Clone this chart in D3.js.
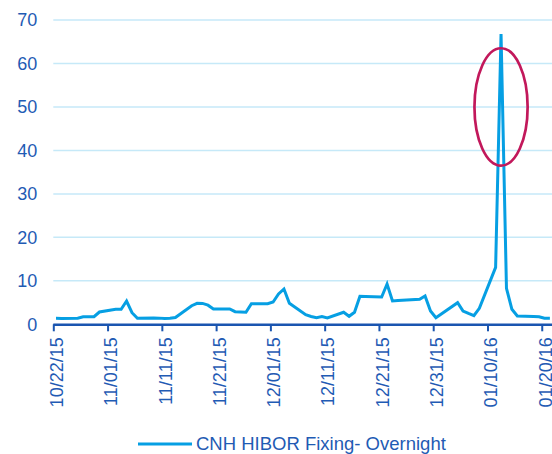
<!DOCTYPE html>
<html>
<head>
<meta charset="utf-8">
<script src="https://cdn.jsdelivr.net/npm/d3@7.9.0/dist/d3.min.js"></script>
<style>
  html, body { margin: 0; padding: 0; background: #fff; }
  svg { display: block; font-family: "Liberation Sans", Arial, sans-serif; }
</style>
</head>
<body>
<svg id="chart" width="552" height="454"></svg>
<script>
// CNH HIBOR overnight fixing (business days)
const dates = [
  "2015-10-22", "2015-10-23", "2015-10-26", "2015-10-27", "2015-10-28", "2015-10-29", "2015-10-30",
  "2015-11-02", "2015-11-03", "2015-11-04", "2015-11-05", "2015-11-06",
  "2015-11-09", "2015-11-10", "2015-11-11", "2015-11-12", "2015-11-13",
  "2015-11-16", "2015-11-17", "2015-11-18", "2015-11-19", "2015-11-20",
  "2015-11-23", "2015-11-24", "2015-11-25", "2015-11-26", "2015-11-27",
  "2015-11-30", "2015-12-01", "2015-12-02", "2015-12-03", "2015-12-04",
  "2015-12-07", "2015-12-08", "2015-12-09", "2015-12-10", "2015-12-11",
  "2015-12-14", "2015-12-15", "2015-12-16", "2015-12-17", "2015-12-18",
  "2015-12-21", "2015-12-22", "2015-12-23", "2015-12-24",
  "2015-12-28", "2015-12-29", "2015-12-30", "2015-12-31",
  "2016-01-04", "2016-01-05", "2016-01-06", "2016-01-07", "2016-01-08",
  "2016-01-11", "2016-01-12", "2016-01-13", "2016-01-14", "2016-01-15",
  "2016-01-18", "2016-01-19", "2016-01-20", "2016-01-21"
];
const rates = [
  1.38, 1.35, 1.40, 1.75, 1.75, 1.75, 2.83,
  3.45, 3.45, 5.36, 2.67, 1.38,
  1.45, 1.42, 1.35, 1.40, 1.55,
  4.28, 4.83, 4.80, 4.40, 3.52,
  3.52, 2.90, 2.85, 2.76, 4.74,
  4.74, 5.13, 6.97, 8.12, 4.83,
  2.20, 1.80, 1.52, 1.76, 1.45,
  2.76, 1.84, 2.76, 6.44, 6.40,
  6.28, 9.27, 5.36, 5.45,
  5.75, 6.50, 3.06, 1.52,
  4.97, 3.06, 2.50, 1.98, 3.68,
  13.10, 66.80, 8.28, 3.45, 1.90,
  1.80, 1.75, 1.38, 1.38
];
const tickDates = [
  "2015-10-22", "2015-11-01", "2015-11-11", "2015-11-21", "2015-12-01",
  "2015-12-11", "2015-12-21", "2015-12-31", "2016-01-10", "2016-01-20"
];
const yTicks = [0, 10, 20, 30, 40, 50, 60, 70];
const seriesName = "CNH HIBOR Fixing- Overnight";
// the circled spike
const highlight = { date: "2016-01-12", value: 50, days: 4.9, span: 13.5 };

const parse = d3.utcParse("%Y-%m-%d");
const fmt = d3.utcFormat("%m/%d/%y");
const data = dates.map((d, i) => ({ date: parse(d), value: rates[i] }));

const svg = d3.select("#chart");
const plotLeft = 53.3, plotRight = 552.6, plotTop = 20, plotBottom = 324.3;

const x = d3.scaleUtc()
  .domain([parse("2015-10-22"), parse("2016-01-22")])
  .range([plotLeft, plotRight]);
const y = d3.scaleLinear().domain([0, 70]).range([plotBottom, plotTop]);

// points sit in the middle of their day slot
const halfDay = (x(parse("2015-10-23")) - x(parse("2015-10-22"))) / 2;
const px = d => x(d) + halfDay;

const textColor = "#1f5bb4";

// gridlines
svg.append("g")
  .selectAll("line")
  .data(yTicks.filter(v => v > 0))
  .join("line")
  .attr("x1", plotLeft).attr("x2", 552)
  .attr("y1", d => y(d)).attr("y2", d => y(d))
  .attr("stroke", "#c6e9f8")
  .attr("stroke-width", 1.5);

// y axis labels
const yAxis = svg.append("g")
  .attr("transform", `translate(${plotLeft},0)`)
  .call(d3.axisLeft(y).tickValues(yTicks).tickSize(0).tickPadding(16));
yAxis.select(".domain").remove();
yAxis.selectAll("text")
  .attr("fill", textColor)
  .style("font-size", "18px")
  .style("font-family", "'Liberation Sans', Arial, sans-serif");

// x axis
const xAxis = svg.append("g")
  .attr("transform", `translate(0,${plotBottom})`)
  .call(d3.axisBottom(x)
    .tickValues(tickDates.map(parse))
    .tickFormat(fmt)
    .tickSize(7)
    .tickSizeOuter(0));
xAxis.select(".domain")
  .attr("d", `M${plotLeft},0.5H552`)
  .attr("stroke", "#1a55b0")
  .attr("stroke-width", 2.5);
xAxis.selectAll(".tick line")
  .attr("stroke", "#1a55b0")
  .attr("stroke-width", 2);
xAxis.selectAll("text")
  .attr("fill", textColor)
  .style("font-size", "18px")
  .style("font-family", "'Liberation Sans', Arial, sans-serif")
  .attr("text-anchor", "end")
  .attr("transform", "rotate(-90)")
  .attr("x", -13)
  .attr("y", 3)
  .attr("dy", "0.35em");

// series line
const line = d3.line()
  .x(d => px(d.date))
  .y(d => y(d.value));

svg.append("path")
  .datum(data)
  .attr("fill", "none")
  .attr("stroke", "#069fe3")
  .attr("stroke-width", 3)
  .attr("stroke-linejoin", "miter")
  .attr("d", line);

// annotation ellipse
const hd = parse(highlight.date);
svg.append("ellipse")
  .attr("cx", px(hd))
  .attr("cy", y(highlight.value))
  .attr("rx", highlight.days * halfDay * 2)
  .attr("ry", y(0) - y(highlight.span))
  .attr("fill", "none")
  .attr("stroke", "#c2185b")
  .attr("stroke-width", 2.7);

// legend
const legend = svg.append("g").attr("transform", "translate(138,444)");
legend.append("line")
  .attr("x1", 0).attr("x2", 54)
  .attr("stroke", "#069fe3")
  .attr("stroke-width", 3);
legend.append("text")
  .attr("x", 58)
  .attr("dy", "0.35em")
  .attr("fill", textColor)
  .style("font-size", "18.5px")
  .text(seriesName);
</script>
</body>
</html>
